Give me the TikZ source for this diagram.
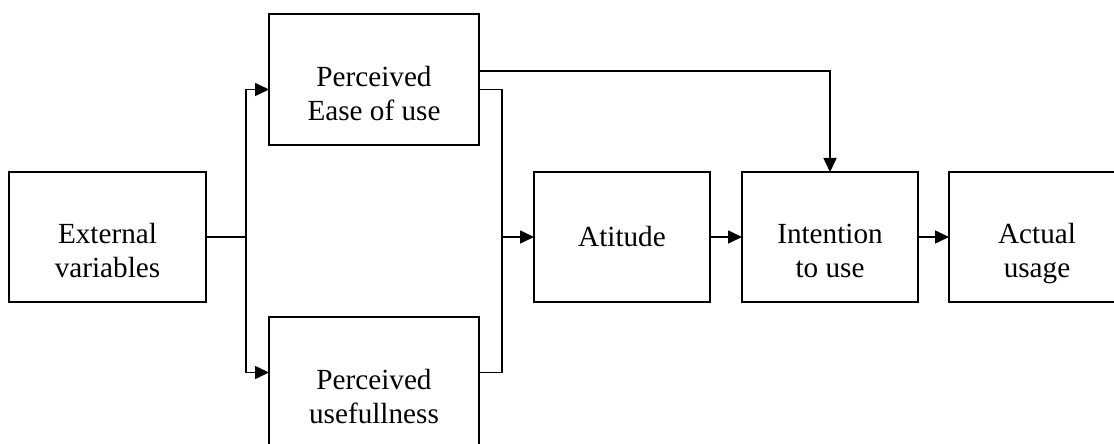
\documentclass[tikz,border=0pt]{standalone}
\usepackage{fontspec}
\setmainfont{Liberation Serif}
\usepackage{tikz}
\usetikzlibrary{arrows.meta,positioning}

\tikzset{
  block/.style={draw,line width=0.9pt,outer sep=0pt,inner sep=2pt,
    minimum height=65pt,font=\fontsize{14.6}{17}\selectfont,align=center},
  wide/.style={block,minimum width=105pt,minimum height=65.5pt},
  narrow/.style={block,minimum width=88pt},
  lbl/.style={font=\fontsize{14.6}{17}\selectfont,align=center,yshift=-7pt},
  line/.style={line width=0.8pt},
  arr/.style={line,-{Triangle[length=7pt,width=6.5pt]}}
}

\begin{document}
\begin{tikzpicture}[x=0.5pt,y=-0.5pt]
        \clip (0,0) rectangle (1114,444);
        % boxes
        \node[block,minimum width=98.5pt,label={[lbl]center:External\\variables}] (ext) at (107.5,237) {};
        \node[wide,label={[lbl]center:Perceived\\Ease of use}] (ease) at (374,79.5) {};
        \node[wide,label={[lbl]center:Perceived\\usefullness}] (useful) at (374,382.5) {};
        \node[narrow] (att) at (622,237) {Atitude};
        \node[narrow,right=16pt of att,label={[lbl]center:Intention\\to use}] (intent) {};
        \node[narrow,right=15.5pt of intent,label={[lbl,yshift=-1.5pt]center:Actual\\usage}] (actual) {};
        \coordinate (split) at (246,237);
        \coordinate (join) at (502,237);
        % connectors
        \draw[line] (ext.east) -- (split);
        \draw[arr] (split) |- ([yshift=-5pt]ease.west);
        \draw[arr] (split) |- ([yshift=5pt]useful.west);
        \draw[line] ([yshift=-5pt]ease.east) -| (join);
        \draw[line] ([yshift=5pt]useful.east) -| (join);
        \draw[arr] (join) -- (att.west);
        \draw[arr] ([yshift=4.25pt]ease.east) -| (intent.north);
        \draw[arr] (att) -- (intent);
        \draw[arr] (intent) -- (actual);
\end{tikzpicture}
\end{document}
